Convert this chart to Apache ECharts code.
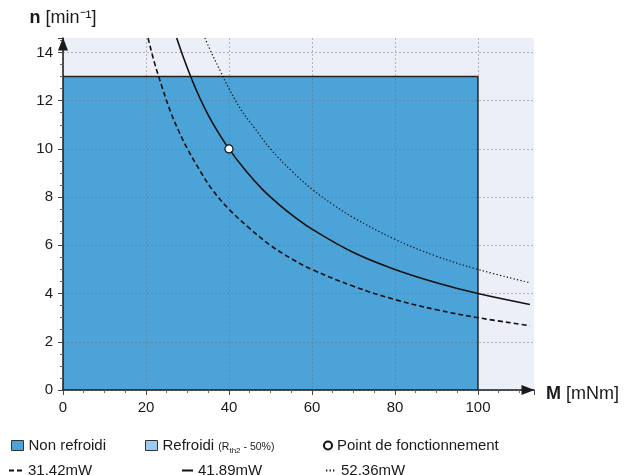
<!DOCTYPE html>
<html>
<head>
<meta charset="utf-8">
<script src="https://cdn.jsdelivr.net/npm/echarts@6/dist/echarts.min.js"></script>
<style>
html,body{margin:0;padding:0;background:#fff;}
#c{width:625px;height:475px;}
</style>
</head>
<body>
<div id="c"></div>
<script>
// ---- data ----
const xTicks = [0, 20, 40, 60, 80, 100];
const yTicks = [0, 2, 4, 6, 8, 10, 12, 14];
const areaName = 'Non refroidi';
const areaPoints = [[0, 13], [100, 13], [100, 0]];
const cooledName = 'Refroidi';
const curveNames = ['31,42mW', '41,89mW', '52,36mW'];
const curve31 = [[20.5,14.6],[22,13.6],[24,12.5],[26,11.5],[28,10.7],[30,10],[33,9.1],[36,8.3],[40,7.5],[45,6.7],[50,6],[55,5.45],[60,5],[70,4.3],[80,3.75],[90,3.33],[100,3],[112.5,2.67]];
const curve42 = [[27.4,14.6],[29,13.8],[31,12.9],[33,12.1],[35,11.4],[37,10.8],[40,10],[44,9.1],[48,8.33],[52,7.7],[56,7.15],[60,6.67],[70,5.7],[80,5],[90,4.45],[100,4],[112.5,3.55]];
const curve52 = [[34.2,14.6],[36,13.9],[38,13.2],[40,12.5],[43,11.6],[46,10.9],[50,10],[55,9.1],[60,8.33],[65,7.7],[70,7.15],[80,6.25],[90,5.55],[100,5],[112.5,4.45]];
const pointName = 'Point de fonctionnement';
const operatingPoint = [[40, 10]];

const FONT = '"Liberation Sans", Arial, Helvetica, sans-serif';
const BLUE = '#4ba3d8';
const LIGHTBLUE = '#9dcbef';
const INK = '#1a1a1a';

const chart = echarts.init(document.getElementById('c'), null, {renderer: 'canvas'});

function leg(name, left, top, w, h, extra) {
  return Object.assign({
    data: [name], left: left, top: top, itemWidth: w, itemHeight: h,
    padding: 0, itemGap: 0, selectedMode: false,
    textStyle: {fontFamily: FONT, fontSize: 15, color: INK}
  }, extra || {});
}
const hiddenSymbol = {color: 'transparent', borderColor: 'transparent', borderWidth: 0};

const option = {
  animation: false,
  textStyle: {fontFamily: FONT},
  grid: {left: 63, right: 91, top: 38, bottom: 85, show: true, backgroundColor: '#eceff8', borderWidth: 0},
  xAxis: {
    type: 'value', min: 0, max: 113.5, interval: 20, z: 3,
    name: '{b|M}{r| [mNm]}', nameLocation: 'end', nameGap: 12,
    nameTextStyle: {fontFamily: FONT, fontSize: 18, color: INK,
      rich: {
        b: {fontFamily: FONT, fontSize: 18, fontWeight: 'bold', color: INK, padding: [9, 0, 0, 0]},
        r: {fontFamily: FONT, fontSize: 18, color: INK, padding: [9, 0, 0, 0]}
      }},
    axisLine: {show: true, lineStyle: {color: INK, width: 1.5}, symbol: ['none', 'triangle'], symbolSize: [10, 13], symbolOffset: [0, -6]},
    axisTick: {show: true, length: 5, inside: false, lineStyle: {color: '#444'}},
    minorTick: {show: true, splitNumber: 4, length: 3, lineStyle: {color: '#666'}},
    axisLabel: {fontFamily: FONT, fontSize: 15, color: INK, margin: 10, showMaxLabel: false,
      formatter: v => xTicks.indexOf(v) >= 0 ? String(v) : ''},
    splitLine: {show: true, showMaxLine: false, lineStyle: {color: 'rgba(110,110,120,0.45)', type: [2, 2], width: 1}}
  },
  yAxis: {
    type: 'value', min: 0, max: 14.6, interval: 2, z: 3,
    name: '{b|n} [min⁻¹]', nameLocation: 'end', nameGap: 11,
    nameTextStyle: {fontFamily: FONT, fontSize: 18, color: INK, align: 'center',
      rich: {b: {fontFamily: FONT, fontSize: 18, fontWeight: 'bold', color: INK}}},
    axisLine: {show: true, lineStyle: {color: INK, width: 1.5}, symbol: ['none', 'triangle'], symbolSize: [10, 13], symbolOffset: [0, -6]},
    axisTick: {show: true, length: 5, inside: false, lineStyle: {color: '#444'}},
    minorTick: {show: true, splitNumber: 4, length: 3, lineStyle: {color: '#666'}},
    axisLabel: {fontFamily: FONT, fontSize: 15, color: INK, margin: 10, showMaxLabel: false,
      formatter: v => yTicks.indexOf(v) >= 0 ? String(v) : ''},
    splitLine: {show: true, showMaxLine: false, lineStyle: {color: 'rgba(110,110,120,0.45)', type: [2, 2], width: 1}}
  },
  legend: [
    leg(areaName, 11, 438, 12, 10, {data: [{name: areaName, icon: 'rect', itemStyle: {color: BLUE, borderColor: '#333', borderWidth: 1}}]}),
    leg(cooledName, 145, 438, 12, 10, {
      data: [{name: cooledName, icon: 'rect', itemStyle: {color: LIGHTBLUE, borderColor: '#333', borderWidth: 1}}],
      formatter: () => '{a|Refroidi }{s|(R}{t|th2}{s| - 50%)}',
      textStyle: {fontFamily: FONT, fontSize: 15, color: INK, rich: {
        a: {fontFamily: FONT, fontSize: 15, color: INK},
        s: {fontFamily: FONT, fontSize: 10.5, color: INK, padding: [3, 0, 0, 0]},
        t: {fontFamily: FONT, fontSize: 8, color: INK, padding: [10, 0, 0, 0]}
      }}
    }),
    leg(pointName, 323, 438, 8, 8),
    leg(curveNames[0], 8, 463, 14, 10, {itemStyle: hiddenSymbol}),
    leg(curveNames[1], 181, 463, 11, 10, {itemStyle: hiddenSymbol}),
    leg(curveNames[2], 325, 463, 10, 10, {itemStyle: hiddenSymbol})
  ],
  series: [
    {name: areaName, type: 'line', data: areaPoints, symbol: 'none', z: 1,
      lineStyle: {color: '#222', width: 1.5}, itemStyle: {color: BLUE},
      areaStyle: {color: BLUE, opacity: 1}},
    {name: cooledName, type: 'line', data: [], symbol: 'none', itemStyle: {color: LIGHTBLUE}},
    {name: curveNames[0], type: 'line', data: curve31, smooth: 0.4, symbol: 'none', z: 5,
      itemStyle: {color: '#111'}, lineStyle: {color: '#111', width: 1.6, type: [5, 3]}},
    {name: curveNames[1], type: 'line', data: curve42, smooth: 0.4, symbol: 'none', z: 5,
      itemStyle: {color: '#111'}, lineStyle: {color: '#111', width: 1.6, type: 'solid'}},
    {name: curveNames[2], type: 'line', data: curve52, smooth: 0.4, symbol: 'none', z: 5,
      itemStyle: {color: '#111'}, lineStyle: {color: '#111', width: 1.2, type: [1.3, 2.2]}},
    {name: pointName, type: 'scatter', data: operatingPoint, symbol: 'circle', symbolSize: 8, z: 6,
      itemStyle: {color: '#fff', borderColor: '#111', borderWidth: 1.2, opacity: 1}}
  ]
};
chart.setOption(option);
</script>
</body>
</html>
